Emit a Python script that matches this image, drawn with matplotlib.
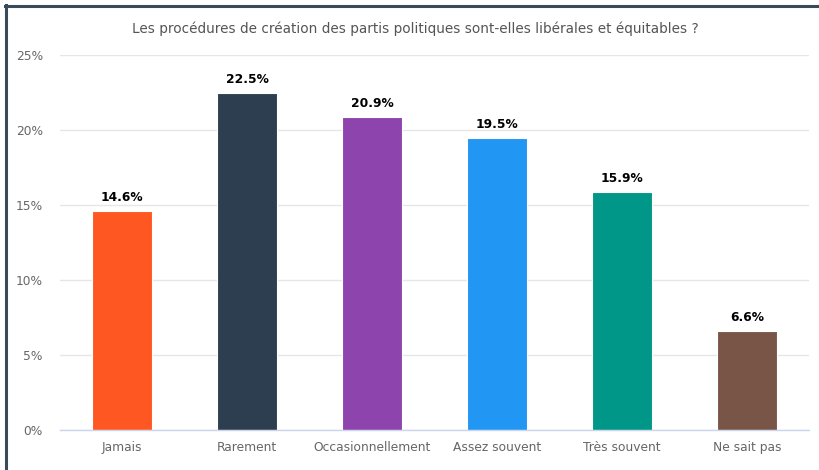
import matplotlib
matplotlib.use("Agg")
import matplotlib.pyplot as plt
from matplotlib.lines import Line2D
from matplotlib.ticker import FuncFormatter, MultipleLocator

title = "Les procédures de création des partis politiques sont-elles libérales et équitables ?"
categories = ["Jamais", "Rarement", "Occasionnellement", "Assez souvent", "Très souvent", "Ne sait pas"]
values = [14.6, 22.5, 20.9, 19.5, 15.9, 6.6]
colors = ["#FF5722", "#2C3E50", "#8E44AD", "#2196F3", "#009688", "#795548"]

plt.rcParams["font.family"] = ["DejaVu Sans"]

fig = plt.figure(figsize=(8.19, 4.70), dpi=100)
ax = fig.add_axes([59.5 / 819, 1 - 430 / 470, 750 / 819, 375 / 470])

x = range(len(categories))
bars = ax.bar(x, values, width=0.48, color=colors, edgecolor="white", linewidth=0.8, zorder=3)
for xi, v in zip(x, values):
    ax.text(xi, v + 0.45, f"{v:.1f}%", ha="center", va="bottom",
            fontsize=8.8, fontweight="bold", color="#000000", zorder=4)

ax.set_xlim(-0.5, len(categories) - 0.5)
ax.set_ylim(0, 25)
ax.yaxis.set_major_locator(MultipleLocator(5))
ax.yaxis.set_major_formatter(FuncFormatter(lambda v, p: f"{v:.0f}%"))
ax.set_xticks(list(x))
ax.set_xticklabels(categories)
ax.tick_params(axis="both", length=0, labelsize=8.8, labelcolor="#666666")
ax.tick_params(axis="y", pad=12)
ax.tick_params(axis="x", pad=8)
ax.grid(axis="y", color="#e6e6e6", linewidth=1, zorder=0)
for s in ["top", "right", "left"]:
    ax.spines[s].set_visible(False)
ax.spines["bottom"].set_color("#ccd6eb")
ax.spines["bottom"].set_linewidth(1)
ax.spines["bottom"].set_zorder(5)

fig.text(415 / 819, 1 - 29 / 470, title, ha="center", va="center",
         fontsize=9.8, color="#555555")

# frame strokes along the left and top edges
border = "#3b4a58"
fig.add_artist(Line2D([6 / 819, 6 / 819], [0, 1 - 5 / 470], transform=fig.transFigure,
                      color=border, linewidth=2.2))
fig.add_artist(Line2D([5 / 819, 1], [1 - 6 / 470, 1 - 6 / 470], transform=fig.transFigure,
                      color=border, linewidth=2.2))

fig.savefig("out.png", dpi=100)
